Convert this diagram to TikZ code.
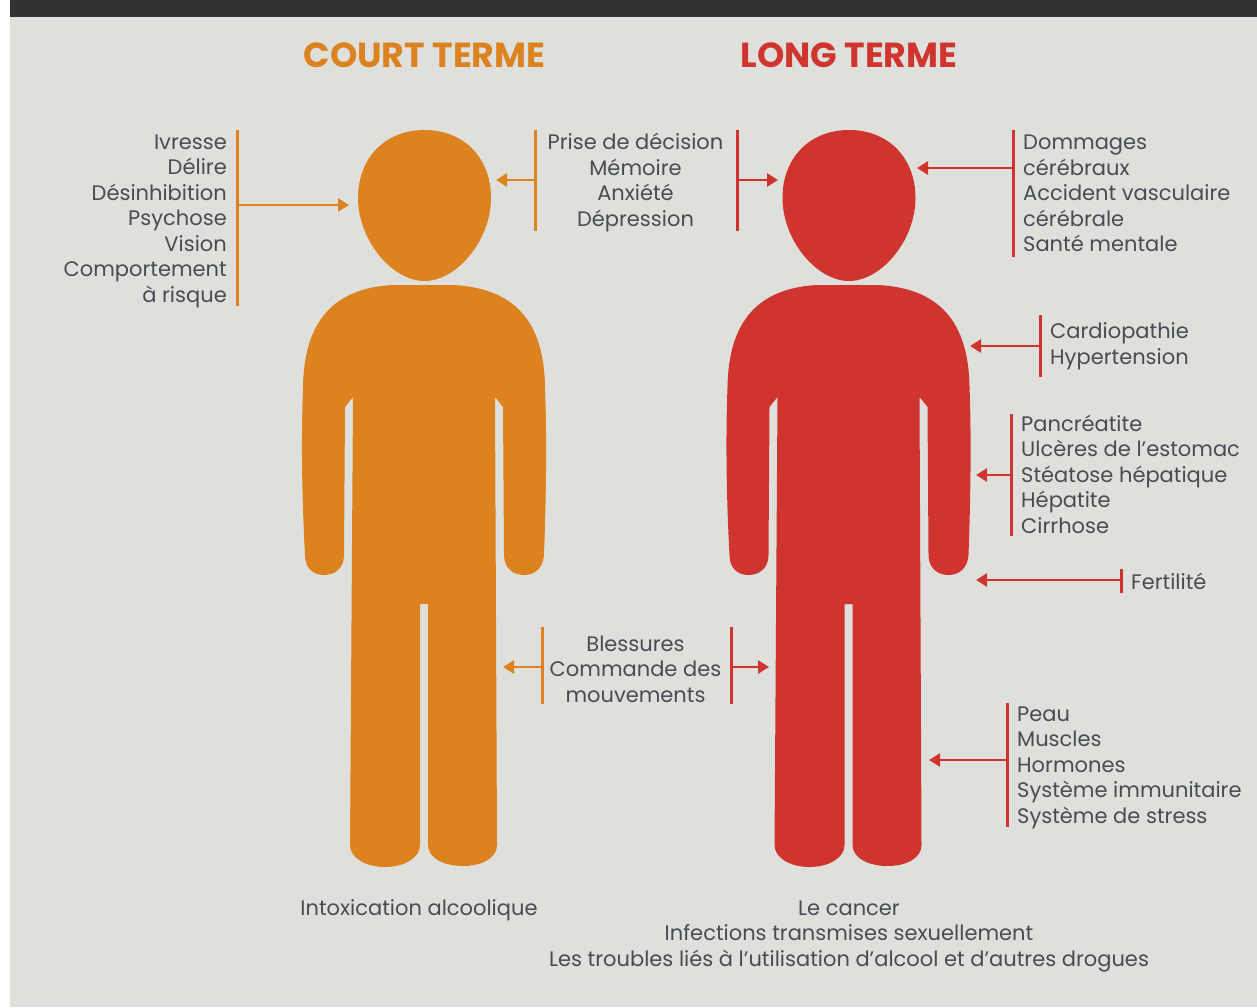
\documentclass[tikz,border=0pt]{standalone}
\usepackage{fontspec}
\setmainfont{Poppins}
\usetikzlibrary{arrows.meta}
\definecolor{fond}{HTML}{DFE0DB}
\definecolor{bandeau}{HTML}{333132}
\definecolor{court}{HTML}{DC8320}
\definecolor{long}{HTML}{CF352E}
\definecolor{texte}{HTML}{484D53}
\tikzset{
    liste/.style={text=texte, inner sep=0pt, font=\fontsize{21}{25.5}\selectfont},
    titre/.style={inner sep=0pt, font=\fontsize{34.8}{38}\selectfont\bfseries},
    barre/.style={line width=3pt},
    fleche/.style={line width=2.6pt, -{Triangle[length=11pt,width=13pt]}},
}
\newcommand{\bonhomme}[1]{
    \fill[#1] (424.5,130) .. controls (385,130) and (358,158) .. (358,198)
        .. controls (358,240) and (392,281) .. (424.5,281)
        .. controls (457,281) and (491,240) .. (491,198)
        .. controls (491,158) and (464,130) .. (424.5,130) -- cycle;
    \fill[#1] (393,285) -- (453,285)
        .. controls (515,288) and (544,322) .. (545,387)
        .. controls (547,440) and (546,500) .. (544,555)
        .. controls (543,568) and (535,575) .. (524,575)
        .. controls (513,575) and (504,568) .. (504,555)
        -- (503,407) -- (495,397) -- (497,845)
        .. controls (497,858) and (482,866) .. (463,866)
        .. controls (444,866) and (428,858) .. (428,845)
        -- (428,604) -- (420,604) -- (420,845)
        .. controls (420,858) and (404,867) .. (385,867)
        .. controls (366,867) and (350,858) .. (350,845)
        -- (353,397) -- (345,407) -- (344,555)
        .. controls (344,568) and (335,575) .. (324,575)
        .. controls (313,575) and (305,568) .. (305,555)
        .. controls (302,500) and (301,440) .. (303,387)
        .. controls (304,322) and (333,288) .. (393,285) -- cycle;
}
\begin{document}
\begin{tikzpicture}[x=1pt, y=-1pt]
    \useasboundingbox (0,0) rectangle (1257,1007);
    \fill[fond] (10,0) rectangle (1257,1007);
    \fill[bandeau] (10,0) rectangle (1257,17);

    % les deux silhouettes
    \bonhomme{court}
    \begin{scope}[xshift=424.5pt]
        \bonhomme{long}
    \end{scope}

    \node[titre, text=court] (titrecourt) at (424.5,55) {COURT TERME};
    \node[titre, text=long] (titrelong) at (849,55) {LONG TERME};

    % barre et fleche : x, haut, bas, y de la fleche, bout de la fleche
    \foreach \nom/\couleur/\x/\h/\b/\yf/\xf in {
            ivresse/court/237/130/306/205/349,
            prise/court/535/130/231/180/496,
            blessures/court/542/627/704/667/503,
            priselong/long/737/130/231/180/778,
            blessureslong/long/731/627/704/667/769,
            dommages/long/1013/130/257/168/917,
            cardio/long/1040/315/377/346/970,
            pancreas/long/1011/414/536/475/976,
            fertilite/long/1121/569/593/580/976,
            peau/long/1007/703/827/760/929} {
            \coordinate (\nom haut) at (\x,\h);
            \coordinate (\nom bas) at (\x,\b);
            \coordinate (\nom dep) at (\x,\yf);
            \coordinate (\nom bout) at (\xf,\yf);
            \draw[barre, \couleur] (\nom haut) -- (\nom bas);
            \draw[fleche, \couleur] (\nom dep) -- (\nom bout);
        }

    \node[liste, align=right, anchor=east] (ivresse) at (227,221) {Ivresse\\Délire\\Désinhibition\\Psychose\\Vision\\Comportement\\à risque};
    \node[liste, align=center] (prise) at (635.5,182.5) {Prise de décision\\Mémoire\\Anxiété\\Dépression};
    \node[liste, align=center] (blessures) at (635.5,669) {Blessures\\Commande des\\mouvements};
    \node[liste, align=left, anchor=west] (dommages) at (1023,193.5) {Dommages\\cérébraux\\Accident vasculaire\\cérébrale\\Santé mentale};
    \node[liste, align=left, anchor=west] (cardio) at (1050,346) {Cardiopathie\\Hypertension};
    \node[liste, align=left, anchor=west] (pancreas) at (1021,474) {Pancréatite\\Ulcères de l’estomac\\Stéatose hépatique\\Hépatite\\Cirrhose};
    \node[liste, align=left, anchor=west] (fertilite) at (1131,581) {Fertilité};
    \node[liste, align=left, anchor=west] (peau) at (1017,767.5) {Peau\\Muscles\\Hormones\\Système immunitaire\\Système de stress};
    \node[liste, align=center] (intox) at (419,910) {Intoxication alcoolique};
    \node[liste, align=center] (cancer) at (849,936) {Le cancer\\Infections transmises sexuellement\\Les troubles liés à l’utilisation d’alcool et d’autres drogues};
\end{tikzpicture}
\end{document}
